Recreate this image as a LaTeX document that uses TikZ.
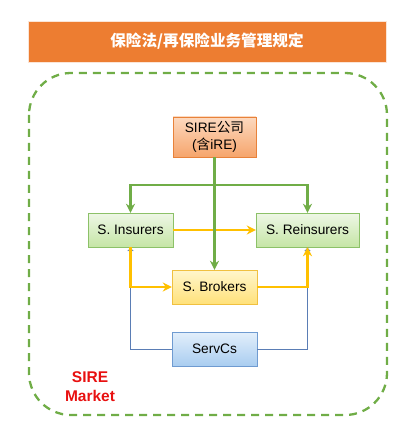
\documentclass[tikz,border=0pt]{standalone}
\usepackage{fontspec}
\setmainfont{Liberation Sans}
\newfontfamily\cjk{Noto Sans CJK SC}
\usepackage{tikz}
\usetikzlibrary{arrows.meta}
\usetikzlibrary{positioning,shadows}
\definecolor{TitleOrange}{HTML}{ED7D31}
\definecolor{LineGreen}{HTML}{70AD47}
\definecolor{LineYellow}{HTML}{FFC000}
\definecolor{LineBlue}{HTML}{5A7DB5}
\definecolor{MarketRed}{HTML}{E81010}

\begin{document}
\begin{tikzpicture}[
x=1pt,y=-1pt,
MyBoxes/.style={draw,thin,minimum height=34pt,inner sep=2pt,
  font=\fontsize{13.7}{16}\selectfont,drop shadow={opacity=0.25,shadow xshift=1pt,shadow yshift=-1pt}},
GreenBox/.style={MyBoxes,draw={rgb,255:red,140;green,193;blue,104},top color={rgb,255:red,238;green,247;blue,230},bottom color={rgb,255:red,197;green,229;blue,165}},
OrangeBox/.style={MyBoxes,draw={rgb,255:red,232;green,130;blue,58},top color={rgb,255:red,252;green,217;blue,191},bottom color={rgb,255:red,246;green,165;blue,108}},
YellowBox/.style={MyBoxes,draw={rgb,255:red,240;green,192;blue,64},top color={rgb,255:red,255;green,246;blue,204},bottom color={rgb,255:red,255;green,225;blue,122}},
BlueBox/.style={MyBoxes,draw={rgb,255:red,111;green,155;blue,209},top color={rgb,255:red,227;green,239;blue,251},bottom color={rgb,255:red,169;green,205;blue,240}},
GreenLines/.style={draw=LineGreen,line width=2.8pt,-{Stealth[length=9pt,width=9pt]}},
YellowLines/.style={draw=LineYellow,line width=2.8pt,-{Stealth[length=9pt,width=9pt]}},
BlueLines/.style={draw=LineBlue,line width=0.8pt,-{To[length=4pt,width=6pt]}}
]
\useasboundingbox (0,0) rectangle (414,435);

% title bar
\node[fill=TitleOrange,draw=white!80!TitleOrange,minimum width=358pt,minimum height=41pt,
  text=white,font=\cjk\bfseries\fontsize{15.6}{18}\selectfont,
  drop shadow={opacity=0.3,shadow xshift=1pt,shadow yshift=-1.5pt}] (Title) at (207,41.5) {保险法/再保险业务管理规定};

% market frame
\draw[LineGreen,line width=2.3pt,dash pattern=on 8pt off 6pt,rounded corners=42pt] (29,73) rectangle (387,415);

\node[OrangeBox,minimum width=83pt,minimum height=40pt,align=center,font=\fontsize{13.7}{17}\selectfont] (SIRE) at (214.5,137) {SIRE{\cjk 公司}\\({\cjk 含}iRE)};
\node[GreenBox,minimum width=85pt] (Insurers) at (130.5,230) {S. Insurers};
\node[GreenBox,minimum width=103pt] (Reinsurers) at (307.5,230) {S. Reinsurers};
\node[YellowBox,minimum width=85pt] (Brokers) at (214.5,287) {S. Brokers};
\node[BlueBox,minimum width=85pt] (ServCs) at (214.5,349) {ServCs};

\node[text=MarketRed,font=\bfseries\fontsize{15.5}{19}\selectfont,align=center] (Market) at (90,387) {SIRE\\Market};

\coordinate (Split) at (214.5,185);

\draw[BlueLines] (ServCs.west) -| (Insurers.south);
\draw[BlueLines] (ServCs.east) -| (Reinsurers.south);

\draw[YellowLines] (Insurers.east) -- (Reinsurers.west);
\draw[YellowLines] (Insurers.south) |- (Brokers.west);
\draw[YellowLines] (Brokers.east) -| (Reinsurers.south);

\draw[GreenLines] (SIRE.south) -- (Brokers.north);
\draw[GreenLines] (Split) -| (Insurers.north);
\draw[GreenLines] (Split) -| (Reinsurers.north);

\end{tikzpicture}
\end{document}
